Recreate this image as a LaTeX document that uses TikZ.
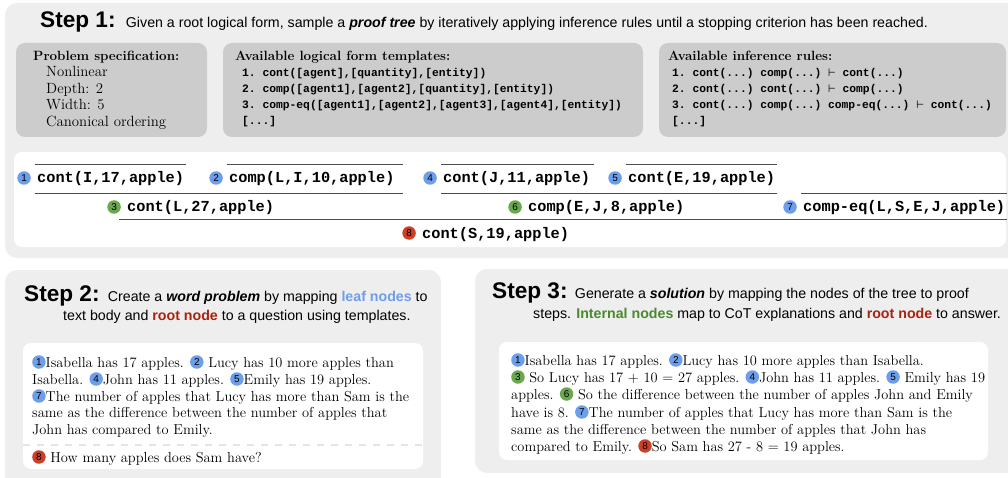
\documentclass[tikz,border=0pt]{standalone}
\usepackage{amsmath}
\usepackage{fontspec}
\setsansfont{Liberation Sans}
\setmonofont{Liberation Mono}
\usepackage{xcolor}
\usepackage{tikz}
\usetikzlibrary{positioning, calc}
\definecolor{panelgray}{HTML}{EEEEEE}
\definecolor{dashgray}{HTML}{E4E4E4}
\definecolor{boxgray}{HTML}{CCCCCC}
\definecolor{leafblue}{HTML}{6D9EEB}
\definecolor{innergreen}{HTML}{6AA84F}
\definecolor{rootred}{HTML}{CC4125}
\definecolor{greentext}{HTML}{4A8A2E}
\definecolor{redtext}{HTML}{A8230F}

\newcounter{bubble}
\newcommand{\bub}[2]{\stepcounter{bubble}\tikz[baseline=-5pt]\node[circle, fill=#1, draw=none, anchor=center, inner sep=0pt, minimum size=13.5pt, text=black, font=\sffamily\fontsize{10}{10}\selectfont] (bub\thebubble) at (0,0) {#2};}

\begin{document}
\begin{tikzpicture}[x=1pt, y=-1pt,
    panel/.style={fill=panelgray, rounded corners=12pt},
    graybox/.style={fill=boxgray, rounded corners=9pt},
    whitebox/.style={fill=white, rounded corners=8pt},
    steptitle/.style={font=\sffamily\bfseries\fontsize{22.6}{22.6}\selectfont, inner sep=0pt, anchor=base west},
    stepline/.style={font=\sffamily\fontsize{14.2}{14.2}\selectfont, inner sep=0pt, anchor=base west},
    boxhead/.style={font=\bfseries\fontsize{13.4}{13.4}\selectfont, inner sep=0pt, anchor=base west},
    boxitem/.style={font=\fontsize{14.8}{14.8}\selectfont, inner sep=0pt, anchor=base west},
    codeitem/.style={font=\ttfamily\bfseries\fontsize{11.3}{11.3}\selectfont, inner sep=0pt, anchor=base west},
    term/.style={font=\ttfamily\bfseries\fontsize{15.3}{15.3}\selectfont, inner xsep=2pt, inner ysep=0pt, text height=18pt, text depth=8pt, anchor=base west},
    numdot/.style={circle, inner sep=0pt, minimum size=13.5pt, font=\sffamily\fontsize{10}{10}\selectfont},
    bar/.style={draw=black!70, line width=0.9pt},
    textline/.style={font=\fontsize{14.4}{14.4}\selectfont, inner sep=0pt, anchor=base west}
]
    \useasboundingbox (0,0) rectangle (1008,478);
    \clip (0,0) rectangle (1008,478);

    % Hintergrundflächen
    \fill[panel] (5,3) rectangle (1030,258);
    \fill[panel] (5,270) rectangle (441,500);
    \fill[panel] (475,269) rectangle (1030,473);

    % Step 1
    \node[steptitle] (s1title) at (40,28) {Step 1:};
    \node[stepline, base right=10pt of s1title] (s1text) {Given a root logical form, sample a \textbf{\textit{proof tree}} by iteratively applying inference rules until a stopping criterion has been reached.};

    \fill[graybox] (16,43) rectangle (207,137);
    \fill[graybox] (223,43) rectangle (643,137);
    \fill[graybox] (659,43) rectangle (1006,137);

    % Problem specification
    \node[boxhead] (spechead) at (33,61) {Problem specification:};
    \node[boxitem] (spec1) at (46,77) {Nonlinear};
    \node[boxitem] (spec2) at (46,94) {Depth: 2};
    \node[boxitem] (spec3) at (46,110) {Width: 5};
    \node[boxitem] (spec4) at (46,127) {Canonical ordering};

    % Templates
    \node[boxhead] (tplhead) at (235,61) {Available logical form templates:};
    \node[codeitem] (tpl1) at (242,77) {1. cont([agent],[quantity],[entity])};
    \node[codeitem] (tpl2) at (242,93) {2. comp([agent1],[agent2],[quantity],[entity])};
    \node[codeitem] (tpl3) at (242,109) {3. comp-eq([agent1],[agent2],[agent3],[agent4],[entity])};
    \node[codeitem] (tpl4) at (242,125) {[...]};

    % Inference rules
    \node[boxhead] (rulehead) at (668,61) {Available inference rules:};
    \node[codeitem] (rule1) at (672,77) {1. cont(...) comp(...) $\boldsymbol{\vdash}$ cont(...)};
    \node[codeitem] (rule2) at (672,93) {2. cont(...) cont(...) $\boldsymbol{\vdash}$ comp(...)};
    \node[codeitem] (rule3) at (672,109) {3. cont(...) comp(...) comp-eq(...) $\boldsymbol{\vdash}$ cont(...)};
    \node[codeitem] (rule4) at (672,125) {[...]};

    % Beweisbaum
    \fill[whitebox] (14,152) rectangle (1006,247);
    \node[term] (t1) at (35,183) {cont(I,17,apple)};
    \node[term] (t2) at (227,183) {comp(L,I,10,apple)};
    \node[term] (t4) at (441,183) {cont(J,11,apple)};
    \node[term] (t5) at (626,183) {cont(E,19,apple)};
    \node[term] (t3) at (125,212) {cont(L,27,apple)};
    \node[term] (t6) at (526,212) {comp(E,J,8,apple)};
    \node[term] (t7) at (801,212) {comp-eq(L,S,E,J,apple)};
    \node[term] (t8) at (420,238) {cont(S,19,apple)};

    \node[numdot, fill=leafblue, left=4pt of t1] (n1) {1};
    \node[numdot, fill=leafblue, left=4pt of t2] (n2) {2};
    \node[numdot, fill=innergreen, left=4pt of t3] (n3) {3};
    \node[numdot, fill=leafblue, left=4pt of t4] (n4) {4};
    \node[numdot, fill=leafblue, left=4pt of t5] (n5) {5};
    \node[numdot, fill=innergreen, left=4pt of t6] (n6) {6};
    \node[numdot, fill=leafblue, left=4pt of t7] (n7) {7};
    \node[numdot, fill=rootred, left=4pt of t8] (n8) {8};

    \draw[bar] (t1.north west) -- (t1.north east);
    \draw[bar] (t2.north west) -- ([xshift=6pt]t2.north east);
    \draw[bar] (t4.north west) -- ([xshift=2pt]t4.north east);
    \draw[bar] (t5.north west) -- (t5.north east);
    \draw[bar] (t7.north west) -- (t7.north east);
    \draw[bar] (t1.west |- t3.north) -- ([xshift=6pt]t2.east |- t3.north);
    \draw[bar] (t4.west |- t6.north) -- (t5.east |- t6.north);
    \draw[bar] ([xshift=-6pt]t3.west |- t8.north) -- (t7.east |- t8.north);

    % Step 2
    \node[steptitle] (s2title) at (24,301) {Step 2:};
    \node[stepline, base right=8pt of s2title] (s2text) {Create a \textbf{\textit{word problem}} by mapping \textbf{\textcolor{leafblue}{leaf nodes}} to};
    \node[stepline] (s2text2) at (63,320) {text body and \textbf{\textcolor{redtext}{root node}} to a question using templates.};

    \fill[whitebox] (23,343) rectangle (423,469);
    \draw[draw=dashgray, line width=2pt, dash pattern=on 7pt off 7pt] (23,445) -- (423,445);
    \node[textline] (wp1) at (32,367) {\bub{leafblue}{1}Isabella has 17 apples. \bub{leafblue}{2} Lucy has 10 more apples than};
    \node[textline] (wp2) at (32,384) {Isabella. \bub{leafblue}{4}John has 11 apples. \bub{leafblue}{5}Emily has 19 apples.};
    \node[textline] (wp3) at (32,401) {\bub{leafblue}{7}The number of apples that Lucy has more than Sam is the};
    \node[textline] (wp4) at (32,417) {same as the difference between the number of apples that};
    \node[textline] (wp5) at (32,434) {John has compared to Emily.};
    \node[textline] (wpq) at (32,462) {\bub{rootred}{8} How many apples does Sam have?};

    % Step 3
    \node[steptitle] (s3title) at (492,298) {Step 3:};
    \node[stepline, base right=7pt of s3title] (s3text) {Generate a \textbf{\textit{solution}} by mapping the nodes of the tree to proof};
    \node[stepline] (s3text2) at (533,318) {steps. \textbf{\textcolor{greentext}{Internal nodes}} map to CoT explanations and \textbf{\textcolor{redtext}{root node}} to answer.};

    \fill[whitebox] (499,342) rectangle (988,460);
    \node[textline] (sol1) at (511,365) {\bub{leafblue}{1}Isabella has 17 apples. \bub{leafblue}{2}Lucy has 10 more apples than Isabella.};
    \node[textline] (sol2) at (511,382) {\bub{innergreen}{3} So Lucy has 17 + 10 = 27 apples. \bub{leafblue}{4}John has 11 apples. \bub{leafblue}{5} Emily has 19};
    \node[textline] (sol3) at (511,399) {apples. \bub{innergreen}{6} So the difference between the number of apples John and Emily};
    \node[textline] (sol4) at (511,417) {have is 8. \bub{leafblue}{7}The number of apples that Lucy has more than Sam is the};
    \node[textline] (sol5) at (511,434) {same as the difference between the number of apples that John has};
    \node[textline] (sol6) at (511,451) {compared to Emily. \bub{rootred}{8}So Sam has 27 - 8 = 19 apples.};
\end{tikzpicture}
\end{document}
